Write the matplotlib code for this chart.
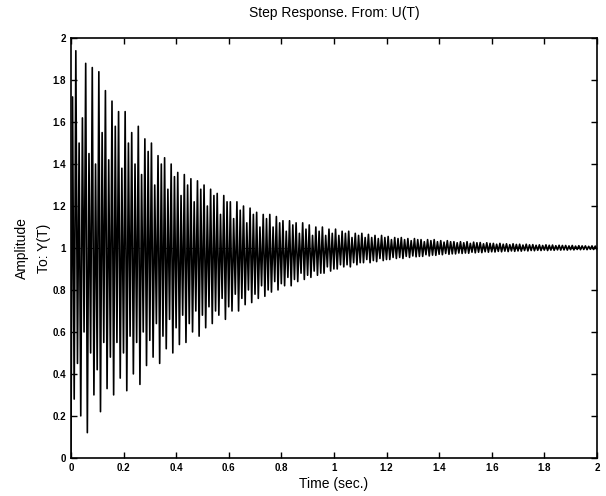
import numpy as np
import matplotlib.pyplot as plt

# upper peak of each oscillation cycle (about 80 cycles per second)
upper_peaks = [
    1.72, 1.94, 1.50, 1.62, 1.88, 1.45, 1.86, 1.40, 1.84, 1.55,
    1.75, 1.42, 1.70, 1.58, 1.65, 1.38, 1.65, 1.50, 1.55, 1.40,
    1.58, 1.35, 1.52, 1.46, 1.50, 1.30, 1.44, 1.40, 1.43, 1.28,
    1.40, 1.34, 1.36, 1.25, 1.35, 1.30, 1.33, 1.22, 1.32, 1.28,
    1.30, 1.20, 1.28, 1.25, 1.26, 1.16, 1.25, 1.22, 1.22, 1.14,
    1.22, 1.18, 1.20, 1.12, 1.19, 1.16, 1.17, 1.10, 1.16, 1.14,
    1.16, 1.10, 1.15, 1.12, 1.13, 1.08, 1.13, 1.11, 1.12, 1.07,
    1.12, 1.09, 1.11, 1.06, 1.10, 1.08, 1.10, 1.06, 1.09, 1.07,
    1.09, 1.06, 1.08, 1.07, 1.08, 1.05, 1.07, 1.06, 1.07, 1.05,
    1.065, 1.05, 1.06, 1.045, 1.06, 1.05, 1.055, 1.04, 1.05, 1.045,
    1.05, 1.04, 1.045, 1.035, 1.045, 1.04, 1.04, 1.03, 1.04, 1.035,
    1.04, 1.03, 1.035, 1.028, 1.035, 1.03, 1.03, 1.025, 1.03, 1.025,
    1.03, 1.022, 1.028, 1.025, 1.026, 1.02, 1.025, 1.022, 1.022, 1.018,
    1.022, 1.018, 1.02, 1.016, 1.02, 1.017, 1.018, 1.014, 1.018, 1.015,
    1.016, 1.013, 1.015, 1.012, 1.015, 1.013, 1.014, 1.011, 1.013, 1.012,
    1.012, 1.01, 1.012, 1.009, 1.011, 1.01, 1.01, 1.008, 1.01, 1.009,
]

# lower trough of each cycle
lower_troughs = [
    0.28, 0.45, 0.20, 0.60, 0.12, 0.50, 0.30, 0.42, 0.22, 0.55,
    0.33, 0.48, 0.30, 0.55, 0.38, 0.50, 0.32, 0.58, 0.40, 0.55,
    0.35, 0.60, 0.44, 0.56, 0.48, 0.64, 0.45, 0.58, 0.52, 0.66,
    0.50, 0.62, 0.54, 0.68, 0.55, 0.64, 0.60, 0.70, 0.58, 0.68,
    0.62, 0.72, 0.64, 0.70, 0.68, 0.76, 0.66, 0.72, 0.70, 0.78,
    0.70, 0.76, 0.73, 0.80, 0.74, 0.78, 0.76, 0.82, 0.77, 0.80,
    0.79, 0.84, 0.80, 0.83, 0.82, 0.86, 0.82, 0.85, 0.84, 0.88,
    0.85, 0.87, 0.86, 0.89, 0.87, 0.88, 0.88, 0.91, 0.89, 0.90,
    0.90, 0.92, 0.91, 0.92, 0.91, 0.93, 0.92, 0.93, 0.93, 0.945,
    0.93, 0.94, 0.935, 0.95, 0.94, 0.945, 0.945, 0.955, 0.95, 0.955,
    0.95, 0.96, 0.955, 0.962, 0.958, 0.96, 0.96, 0.968, 0.962, 0.966,
    0.965, 0.97, 0.968, 0.974, 0.97, 0.972, 0.972, 0.976, 0.974, 0.976,
    0.975, 0.98, 0.977, 0.98, 0.978, 0.982, 0.98, 0.982, 0.981, 0.984,
    0.982, 0.985, 0.983, 0.986, 0.984, 0.986, 0.985, 0.988, 0.986, 0.988,
    0.987, 0.989, 0.988, 0.99, 0.988, 0.99, 0.989, 0.991, 0.99, 0.991,
    0.99, 0.992, 0.991, 0.993, 0.992, 0.993, 0.992, 0.994, 0.993, 0.994,
]

start_value = 0.0
final_value = 1.0
t_end = 2.0

x_ticks = [0, 0.2, 0.4, 0.6, 0.8, 1, 1.2, 1.4, 1.6, 1.8, 2]
x_labels = ['0', '0.2', '0.4', '0.6', '0.8', '1', '1.2', '1.4', '1.6', '1.8', '2']
y_ticks = [0, 0.2, 0.4, 0.6, 0.8, 1, 1.2, 1.4, 1.6, 1.8, 2]
y_labels = ['0', '0.2', '0.4', '0.6', '0.8', '1', '1.2', '1.4', '1.6', '1.8', '2']

# interleave peaks and troughs on an even half-period grid
y = [start_value]
for up, lo in zip(upper_peaks, lower_troughs):
    y.extend([up, lo])
y = np.array(y)
t = np.linspace(0, t_end, len(y))

plt.rcParams['font.family'] = ['Liberation Sans', 'DejaVu Sans']

fig = plt.figure(figsize=(6.06, 4.96), dpi=100)
ax = fig.add_axes([0.117, 0.077, 0.868, 0.846])

ax.plot(t, y, color='black', linewidth=1.2)
ax.axhline(final_value, color='black', linestyle=':', linewidth=0.8)

ax.set_xlim(0, t_end)
ax.set_ylim(0, 2)
ax.set_xticks(x_ticks)
ax.set_xticklabels(x_labels)
ax.set_yticks(y_ticks)
ax.set_yticklabels(y_labels)
ax.tick_params(direction='in', top=True, right=True, labelsize=7, length=4, width=1)
for lbl in ax.get_xticklabels() + ax.get_yticklabels():
    lbl.set_fontweight('bold')
for s in ax.spines.values():
    s.set_linewidth(1.2)

ax.set_title('Step Response. From: U(T)', fontsize=10, pad=15)
ax.set_xlabel('Time (sec.)', fontsize=10, labelpad=3)
ax.set_ylabel('Amplitude\nTo: Y(T)', fontsize=10, labelpad=1, linespacing=1.7)

fig.savefig('out.png', dpi=100)
